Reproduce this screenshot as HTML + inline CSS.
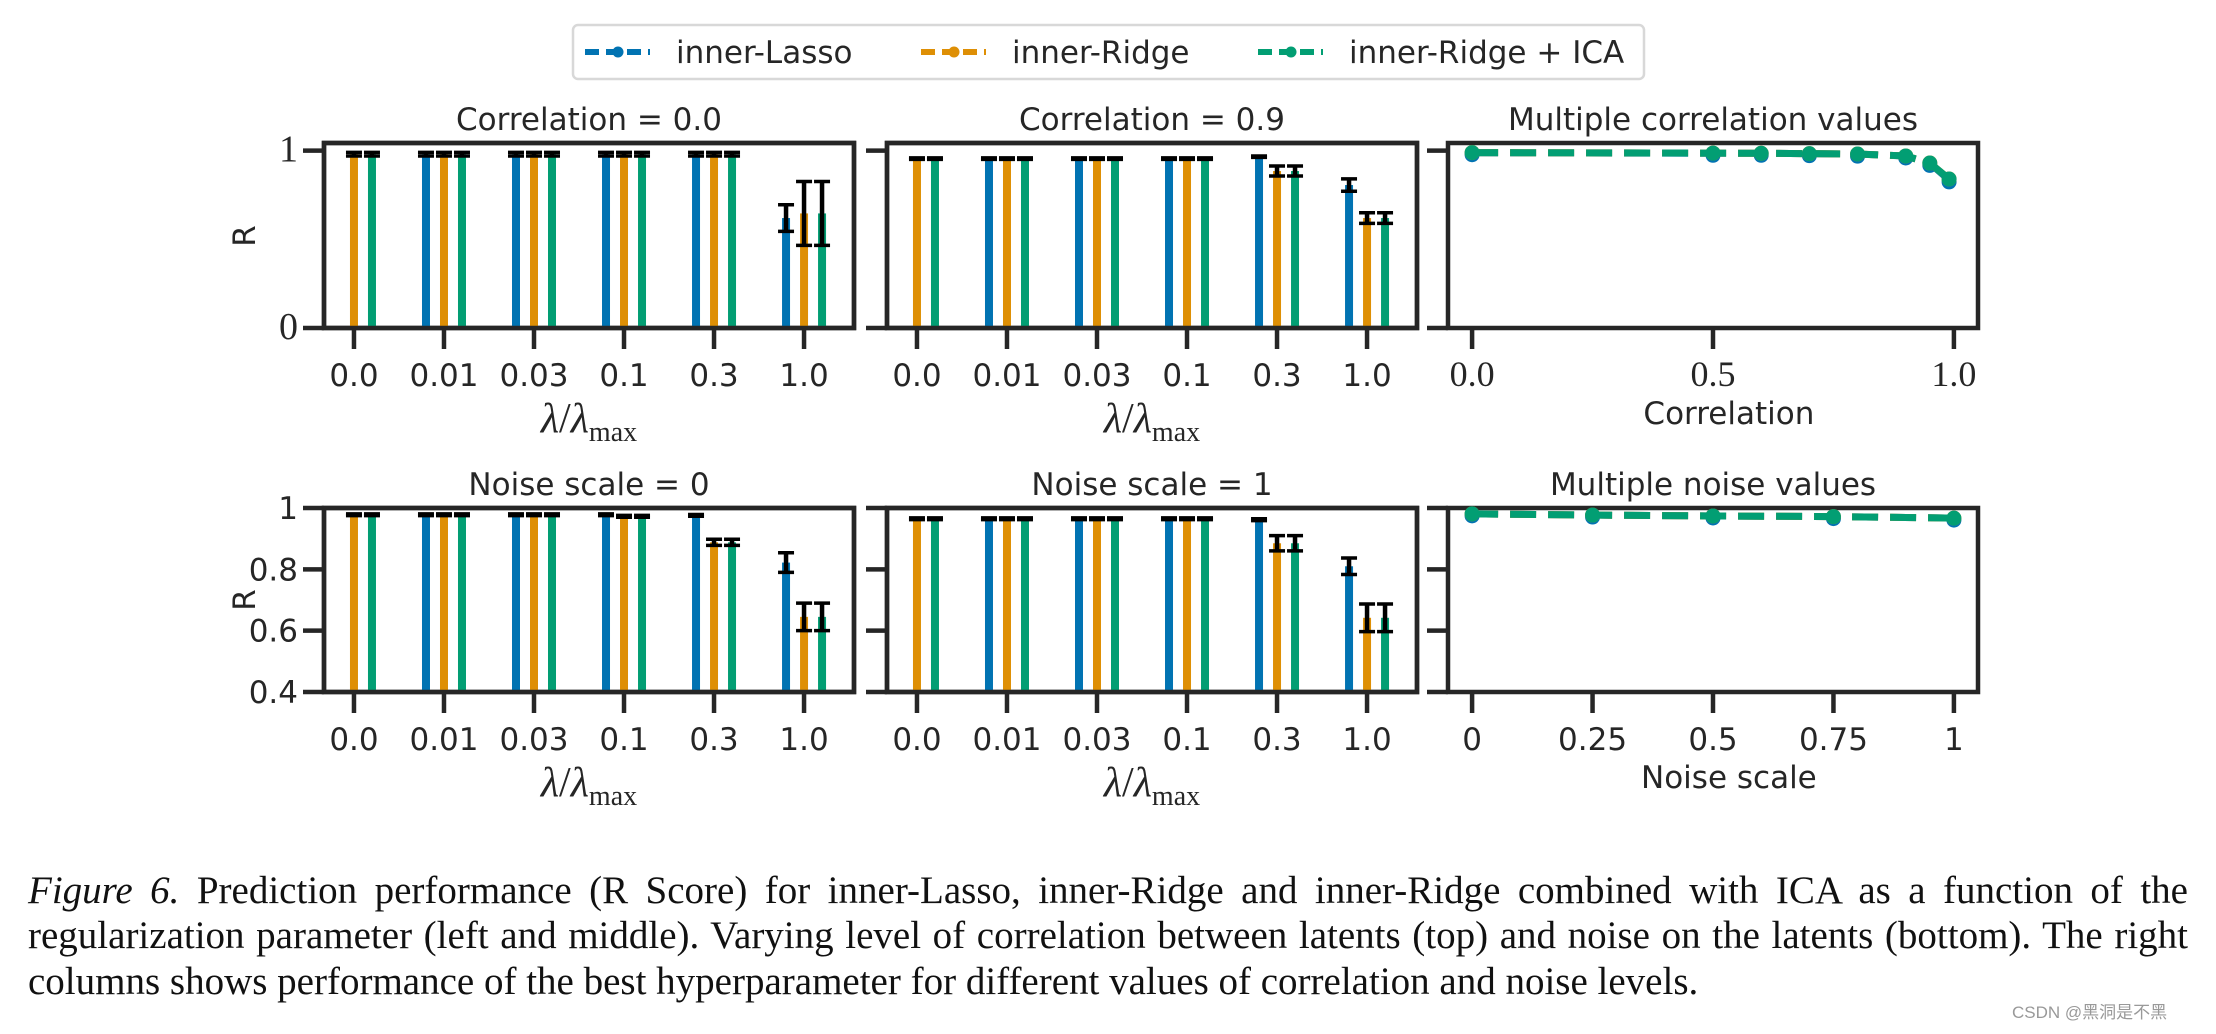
<!DOCTYPE html>
<html><head><meta charset="utf-8">
<style>
html,body{margin:0;padding:0;background:#fff;}
body{width:2216px;height:1034px;overflow:hidden;position:relative;}
svg{position:absolute;left:0;top:0;}
.cap{position:absolute;left:28px;width:2160px;font-family:"Liberation Serif",serif;font-size:39px;line-height:45px;color:#111;white-space:nowrap;}
.cap.j{text-align:justify;text-align-last:justify;white-space:normal;}
</style></head>
<body>
<svg id="fig" width="2216" height="1034" xmlns="http://www.w3.org/2000/svg"></svg>
<div class="cap j" style="top:868px"><i>Figure 6.</i> Prediction performance (R Score) for inner-Lasso, inner-Ridge and inner-Ridge combined with ICA as a function of the</div>
<div class="cap j" style="top:913px">regularization parameter (left and middle). Varying level of correlation between latents (top) and noise on the latents (bottom). The right</div>
<div class="cap" style="top:959px">columns shows performance of the best hyperparameter for different values of correlation and noise levels.</div>
<div style="position:absolute;left:2012px;top:998px;font-family:'Liberation Sans','Noto Sans CJK SC',sans-serif;font-size:17px;color:#999;">CSDN @黑洞是不黑</div>
<script>
// ---- data ----
const lambdaLabels = ["0.0","0.01","0.03","0.1","0.3","1.0"];
const seriesNames = ["inner-Lasso","inner-Ridge","inner-Ridge + ICA"];
const corr0Lasso = [null,0.98,0.98,0.98,0.98,0.62];
const corr0Ridge = [0.98,0.98,0.98,0.98,0.98,0.646];
const corr0Ica   = [0.98,0.98,0.98,0.98,0.98,0.646];
const corr0LassoErr = [0,0.01,0.01,0.01,0.01,0.075];
const corr0RidgeErr = [0.01,0.01,0.01,0.01,0.01,0.18];
const corr0IcaErr   = [0.01,0.01,0.01,0.01,0.01,0.18];
const corr9Lasso = [null,0.955,0.955,0.955,0.966,0.806];
const corr9Ridge = [0.955,0.955,0.955,0.955,0.885,0.62];
const corr9Ica   = [0.955,0.955,0.955,0.955,0.885,0.62];
const corr9LassoErr = [0,0.004,0.004,0.004,0.004,0.035];
const corr9RidgeErr = [0.004,0.004,0.004,0.004,0.028,0.03];
const corr9IcaErr   = [0.004,0.004,0.004,0.004,0.028,0.03];
const noise0Lasso = [null,0.978,0.978,0.978,0.976,0.822];
const noise0Ridge = [0.978,0.978,0.978,0.973,0.888,0.645];
const noise0Ica   = [0.978,0.978,0.978,0.973,0.888,0.645];
const noise0LassoErr = [0,0.003,0.003,0.003,0.003,0.032];
const noise0RidgeErr = [0.003,0.003,0.003,0.003,0.01,0.045];
const noise0IcaErr   = [0.003,0.003,0.003,0.003,0.01,0.045];
const noise1Lasso = [null,0.965,0.965,0.965,0.962,0.81];
const noise1Ridge = [0.965,0.965,0.965,0.965,0.885,0.642];
const noise1Ica   = [0.965,0.965,0.965,0.965,0.885,0.642];
const noise1LassoErr = [0,0.003,0.003,0.003,0.003,0.027];
const noise1RidgeErr = [0.003,0.003,0.003,0.003,0.025,0.045];
const noise1IcaErr   = [0.003,0.003,0.003,0.003,0.025,0.045];
const corrValues = [0,0.5,0.6,0.7,0.8,0.9,0.95,0.99];
const corrLasso = [0.988,0.985,0.985,0.983,0.98,0.97,0.928,0.835];
const corrRidge = [0.989,0.986,0.985,0.983,0.981,0.97,0.93,0.84];
const corrIca   = [0.989,0.986,0.985,0.983,0.981,0.97,0.93,0.84];
const noiseValues = [0,0.25,0.5,0.75,1];
const noiseLasso = [0.981,0.977,0.974,0.972,0.967];
const noiseRidge = [0.981,0.977,0.974,0.972,0.967];
const noiseIca   = [0.981,0.977,0.974,0.972,0.967];
const corrTicks = [0,0.5,1.0];
const corrTickLabels = ["0.0","0.5","1.0"];
const noiseTicks = [0,0.25,0.5,0.75,1];
const noiseTickLabels = ["0","0.25","0.5","0.75","1"];

const COLORS = ["#0173b2","#de8f05","#029e73"];
const INK = "#262626";
const NS = "http://www.w3.org/2000/svg";
const svg = document.getElementById("fig");
function mk(tag, attrs, parent){
  const e = document.createElementNS(NS, tag);
  for (const k in attrs) e.setAttribute(k, attrs[k]);
  (parent||svg).appendChild(e);
  return e;
}
function txt(s, x, y, size, fam, anchor, name, extra){
  const t = mk("text", Object.assign({x:x,y:y,"font-size":size,"font-family":fam,"text-anchor":anchor||"middle",fill:INK}, extra||{}));
  t.textContent = s;
  
  
  return t;
}
const SANS = "'DejaVu Sans', sans-serif";
const SERIF = "'Liberation Serif', serif";

const COLS = [324, 887, 1448];
const PW = 530;
const ROWS = [{top:143,bottom:328,ymin:0,ymax:1.043},{top:508,bottom:692,ymin:0.4,ymax:1.0}];

function yScale(r){ return v => r.bottom - (v - r.ymin)/(r.ymax - r.ymin)*(r.bottom - r.top); }

function frame(x0, r, name){
  const g = mk("g", {});
  
  
  mk("rect", {x:x0, y:r.top, width:PW, height:r.bottom-r.top, fill:"none", stroke:INK, "stroke-width":4.5}, g);
  return g;
}
function yTicks(x0, r, vals, labels, fam, size, g){
  const ys = yScale(r);
  vals.forEach((v,i)=>{
    const y = ys(v);
    const l = mk("line", {x1:x0-21, x2:x0, y1:y, y2:y, stroke:INK, "stroke-width":4.5}, g);
    
    
    if (labels) txt(labels[i], x0-26, y+11, size, fam, "end", "y-tick-label");
  });
}

function barPanel(col, row, title, lasso, ridge, ica, le, re, ie, name, ylabels){
  const x0 = COLS[col], r = ROWS[row], ys = yScale(r);
  const g = frame(x0, r, name);
  const xmin = -0.333, xmax = 5.555;
  const xs = v => x0 + (v - xmin)/(xmax - xmin)*PW;
  const series = [lasso, ridge, ica], errs = [le, re, ie];
  const offs = [-0.2, 0, 0.2];
  series.forEach((s, si)=>{
    s.forEach((v, i)=>{
      if (v === null) return;
      const cx = xs(i + offs[si]);
      const b = mk("rect", {x:cx-4, y:ys(v), width:8, height:ys(r.ymin)-ys(v), fill:COLORS[si]}, g);
      
      
      const e = errs[si][i];
      const yt = ys(Math.min(v+e, r.ymax+0.02)), yb = ys(v-e);
      const eg = mk("g", {stroke:"#000","stroke-width":3.5}, g);
      
      
      mk("line", {x1:cx, x2:cx, y1:yt, y2:yb, "stroke-width":4.5}, eg);
      mk("line", {x1:cx-8, x2:cx+8, y1:yt, y2:yt}, eg);
      mk("line", {x1:cx-8, x2:cx+8, y1:yb, y2:yb}, eg);
    });
  });
  mk("rect", {x:x0, y:r.top, width:PW, height:r.bottom-r.top, fill:"none", stroke:INK, "stroke-width":4.5}, g);
  lambdaLabels.forEach((l,i)=>{
    const x = xs(i);
    const t = mk("line", {x1:x, x2:x, y1:r.bottom, y2:r.bottom+21, stroke:INK, "stroke-width":4.5}, g);
    
    
    txt(l, x, r.bottom+58, 31, SANS, "middle", "x-tick-label");
  });
  txt(title, x0+PW/2, r.top-13, 31, SANS, "middle", "panel-title");
  const xl = txt("", x0+PW/2, r.bottom+104, 42, SERIF, "middle", "x-axis-title");
  xl.innerHTML = '<tspan font-style="italic">λ</tspan>/<tspan font-style="italic">λ</tspan><tspan font-size="28" dy="9">max</tspan>';
  yTicks(x0, r, row===0?[0,1]:[0.4,0.6,0.8,1.0], ylabels, row===0?SERIF:SANS, row===0?38:31, g);
}

function linePanel(col, row, title, xvals, sets, ticks, tickLabels, tickFam, xlabel, name){
  const x0 = COLS[col], r = ROWS[row], ys = yScale(r);
  const g = frame(x0, r, name);
  const xmin = -0.05, xmax = 1.05;
  const xs = v => x0 + (v - xmin)/(xmax - xmin)*PW;
  sets.forEach((s, si)=>{
    const pts = xvals.map((x,i)=> xs(x)+","+ys(s[i])).join(" ");
    const pl = mk("polyline", {points:pts, fill:"none", stroke:COLORS[si], "stroke-width":7, "stroke-dasharray":"26,12"}, g);
    
    
    xvals.forEach((x,i)=>{
      const c = mk("circle", {cx:xs(x), cy:ys(s[i]) + (si===0?2:0), r:7.5, fill:COLORS[si]}, g);
      
      
    });
  });
  ticks.forEach((v,i)=>{
    const x = xs(v);
    const t = mk("line", {x1:x, x2:x, y1:r.bottom, y2:r.bottom+21, stroke:INK, "stroke-width":4.5}, g);
    
    
    txt(tickLabels[i], x, r.bottom+58, tickFam===SERIF?36:31, tickFam, "middle", "x-tick-label");
  });
  txt(title, x0+PW/2, r.top-13, 31, SANS, "middle", "panel-title");
  txt(xlabel, x0+PW/2+PW*0.03, r.bottom+96, 31, SANS, "middle", "x-axis-title");
  yTicks(x0, r, row===0?[0,1]:[0.4,0.6,0.8,1.0], null, SANS, 31, g);
}

barPanel(0,0,"Correlation = 0.0",corr0Lasso,corr0Ridge,corr0Ica,corr0LassoErr,corr0RidgeErr,corr0IcaErr,"panel-correlation-0",["0","1"]);
barPanel(1,0,"Correlation = 0.9",corr9Lasso,corr9Ridge,corr9Ica,corr9LassoErr,corr9RidgeErr,corr9IcaErr,"panel-correlation-09",null);
linePanel(2,0,"Multiple correlation values",corrValues,[corrLasso,corrRidge,corrIca],corrTicks,corrTickLabels,SERIF,"Correlation","panel-multiple-correlation");
barPanel(0,1,"Noise scale = 0",noise0Lasso,noise0Ridge,noise0Ica,noise0LassoErr,noise0RidgeErr,noise0IcaErr,"panel-noise-0",["0.4","0.6","0.8","1"]);
barPanel(1,1,"Noise scale = 1",noise1Lasso,noise1Ridge,noise1Ica,noise1LassoErr,noise1RidgeErr,noise1IcaErr,"panel-noise-1",null);
linePanel(2,1,"Multiple noise values",noiseValues,[noiseLasso,noiseRidge,noiseIca],noiseTicks,noiseTickLabels,SANS,"Noise scale","panel-multiple-noise");

txt("R", 255, 236, 31, SANS, "middle", "y-axis-title", {transform:"rotate(-90 255 236)"});
txt("R", 255, 600, 31, SANS, "middle", "y-axis-title", {transform:"rotate(-90 255 600)"});

// legend
const lg = mk("g", {});


mk("rect", {x:573, y:25, width:1071, height:54, rx:5, fill:"#fff", stroke:"#d8d8d8", "stroke-width":2.5}, lg);
const handleX = [585, 921, 1258], textX = [676, 1012, 1349];
seriesNames.forEach((n,i)=>{
  const e = mk("g", {}, lg);
  
  
  mk("line", {x1:handleX[i], x2:handleX[i]+65, y1:52, y2:52, stroke:COLORS[i], "stroke-width":6, "stroke-dasharray":"14,7"}, e);
  mk("circle", {cx:handleX[i]+33, cy:52, r:5.5, fill:COLORS[i]}, e);
  txt(n, textX[i], 63, 31, SANS, "start", "legend-label");
});
</script>
</body></html>
